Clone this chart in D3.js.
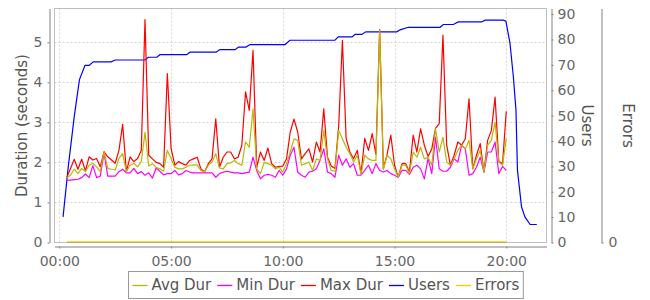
<!DOCTYPE html>
<html>
<head>
<meta charset="utf-8">
<script src="https://cdn.jsdelivr.net/npm/d3@7"></script>
<style>
  body { margin: 0; background: #fff; }
  svg text { font-family: "DejaVu Sans", Verdana, sans-serif; }
</style>
</head>
<body>
<div id="chart"></div>
<script>
// duration samples: one every 10 minutes starting at 00:20
var durStart = 20, durStep = 10;

var avgDur = [1.62, 1.68, 1.83, 1.72, 1.85, 1.77, 1.93, 1.98, 1.89, 1.77, 2.27, 1.85, 1.83, 1.81, 2.10, 2.22, 1.77, 1.93, 1.98, 1.89, 2.02, 2.75,
  1.91, 1.97, 1.88, 1.84, 1.78, 2.30, 2.09, 1.88, 1.84, 1.84, 1.88, 1.93, 1.94, 1.94, 1.80, 1.76, 1.93, 2.01, 2.22, 1.86, 1.84, 1.97, 1.99, 2.05, 1.97,
  1.93, 2.51, 2.38, 3.34, 1.84, 1.72, 2.00, 1.97, 1.93, 1.84, 1.88, 1.76, 1.97, 2.26, 2.59, 2.55, 1.93, 1.97, 2.01, 1.80, 2.09, 2.05, 2.80,
  2.09, 1.80, 1.78, 2.80, 2.59, 2.38, 2.22, 2.01, 2.18, 1.70, 2.18, 2.09, 2.05, 2.05, 5.30, 1.82, 2.18, 2.09, 1.84, 1.63, 1.93, 1.93, 1.72,
  2.26, 2.13, 2.38, 2.09, 2.13, 1.93, 2.84, 2.26, 2.63, 2.01, 1.93, 2.09, 2.30, 2.43, 2.34, 2.55, 1.84, 2.09, 2.30, 1.76, 2.43, 2.55, 3.00, 2.01, 1.93, 2.60];

var minDur = [1.55, 1.56, 1.57, 1.58, 1.62, 1.71, 1.62, 1.92, 1.62, 1.66, 2.24, 1.66, 1.66, 1.66, 1.77, 1.83, 1.74, 1.74, 1.85, 1.72, 1.77, 1.68,
  1.74, 1.61, 1.86, 1.78, 1.69, 1.72, 1.72, 1.80, 1.69, 1.72, 1.80, 1.76, 1.74, 1.74, 1.74, 1.74, 1.74, 1.74, 1.63, 1.72, 1.76, 1.78, 1.76, 1.74, 1.74,
  1.72, 1.74, 1.76, 2.13, 1.80, 1.59, 1.68, 1.70, 1.68, 1.63, 1.80, 1.68, 1.84, 2.18, 2.38, 1.76, 1.68, 1.63, 1.76, 1.78, 1.84, 2.05, 2.34,
  1.76, 1.72, 1.63, 2.18, 1.93, 2.09, 1.88, 1.97, 1.68, 1.68, 1.80, 1.93, 1.72, 1.97, 1.80, 1.76, 1.80, 1.72, 1.68, 1.63, 1.80, 1.80, 1.70,
  1.88, 1.93, 1.84, 1.59, 2.10, 1.72, 2.63, 1.84, 1.78, 1.78, 1.88, 2.09, 2.01, 2.43, 2.34, 1.68, 1.72, 1.88, 2.13, 1.76, 2.26, 2.26, 2.51, 1.72, 1.90, 1.80];

var maxDur = [1.62, 1.85, 2.08, 1.83, 2.08, 1.79, 2.14, 2.06, 2.10, 1.89, 2.27, 2.14, 2.06, 1.98, 2.30, 2.95, 1.77, 2.14, 2.02, 2.10, 2.30, 5.57,
  2.18, 2.09, 2.00, 1.97, 1.88, 4.22, 2.35, 1.93, 2.02, 1.97, 1.93, 2.05, 2.09, 2.13, 1.84, 1.76, 1.97, 2.09, 3.09, 1.88, 2.13, 2.26, 2.26, 2.09, 2.13,
  2.43, 3.76, 3.30, 4.80, 1.88, 2.26, 2.05, 2.36, 1.97, 1.88, 1.90, 1.91, 2.09, 2.76, 3.08, 2.76, 2.09, 2.22, 2.34, 2.01, 2.51, 2.26, 3.34,
  2.13, 1.91, 1.85, 2.90, 5.05, 2.60, 2.26, 2.09, 2.30, 1.72, 2.60, 2.30, 2.72, 2.20, 5.32, 1.85, 2.20, 2.68, 1.93, 1.63, 1.97, 1.97, 1.76,
  2.68, 2.26, 2.84, 2.43, 2.15, 2.34, 2.85, 2.97, 5.18, 2.43, 1.93, 2.18, 2.51, 2.43, 2.59, 3.59, 1.84, 2.18, 2.47, 1.76, 2.55, 2.80, 3.63, 2.02, 1.97, 3.28];

// users: minutes after 00:00 and active users
var userTimes = [10, 24, 40, 54, 69, 80, 91, 139, 150, 230, 239, 262, 270, 342, 351, 421, 431, 472, 481, 501, 512, 606, 619, 740,
  749, 786, 794, 812, 823, 906, 915, 937, 1022, 1031, 1058, 1071, 1134, 1143, 1192, 1199, 1210, 1219, 1226, 1230, 1241, 1250, 1264, 1282];
var userCounts = [10.1, 29.9, 49.6, 64.2, 69.8, 69.8, 71.2, 71.2, 71.9, 71.9, 73, 73, 74, 74, 75, 75, 76, 76, 77, 77, 78, 78, 79.7, 79.7,
  81, 81, 82, 82, 83, 83, 83.8, 84.8, 84.8, 85.9, 85.9, 86.9, 86.9, 87.6, 87.6, 87.2, 78.5, 65.3, 52.2, 28.5, 14, 10.1, 7.1, 7.1];

var errorTimes = [20, 1200];
var errorCounts = [0, 0];

var timeTicks = [0, 300, 600, 900, 1200];
var timeLabels = ["00:00", "05:00", "10:00", "15:00", "20:00"];
var durTicks = [0, 1, 2, 3, 4, 5];
var userTicks = [0, 10, 20, 30, 40, 50, 60, 70, 80, 90];
var errorTicks = [0];

var seriesNames = ["Avg Dur", "Min Dur", "Max Dur", "Users", "Errors"];
var seriesColors = ["#b8b800", "#ff00ff", "#ff0000", "#0000ff", "#ffc800"];

var width = 650, height = 300;
var plotLeft = 54.5, plotRight = 546.5, plotTop = 8.5, plotBottom = 242.5;

var svg = d3.select("#chart").append("svg")
    .attr("width", width)
    .attr("height", height);

var x = d3.scaleLinear().domain([-13, 1308]).range([plotLeft, plotRight]);
var yDur = d3.scaleLinear().domain([0, 5.845]).range([plotBottom, plotTop]);
var yUsers = d3.scaleLinear().domain([0, 92.2]).range([plotBottom, plotTop]);
var yErr = d3.scaleLinear().domain([0, 1]).range([plotBottom, plotTop]);

// grid lines
var grid = svg.append("g").attr("stroke", "#d6d6d6").attr("stroke-dasharray", "2,2").attr("stroke-width", 1);
durTicks.filter(function(d) { return d > 0; }).forEach(function(d) {
    var yy = Math.round(yDur(d)) + 0.5;
    grid.append("line").attr("x1", plotLeft).attr("x2", plotRight).attr("y1", yy).attr("y2", yy);
});
timeTicks.forEach(function(t) {
    var xx = Math.round(x(t)) + 0.5;
    grid.append("line").attr("x1", xx).attr("x2", xx).attr("y1", plotTop).attr("y2", plotBottom);
});

// series lines
var durLine = function(values) {
    return d3.line()
        .x(function(d, i) { return x(durStart + i * durStep); })
        .y(function(d) { return yDur(d); })(values);
};

svg.append("path")
    .attr("d", d3.line().x(function(d, i) { return x(errorTimes[i]); }).y(function(d) { return yErr(d) - 0.5; })(errorCounts))
    .attr("fill", "none").attr("stroke", seriesColors[4]).attr("stroke-width", 1.5);

svg.append("path")
    .attr("d", d3.line().x(function(d, i) { return x(userTimes[i]); }).y(function(d) { return yUsers(d); })(userCounts))
    .attr("fill", "none").attr("stroke", seriesColors[3]).attr("stroke-width", 1.2);

[[maxDur, seriesColors[2]], [minDur, seriesColors[1]], [avgDur, seriesColors[0]]].forEach(function(s) {
    svg.append("path")
        .attr("d", durLine(s[0]))
        .attr("fill", "none")
        .attr("stroke", s[1])
        .attr("stroke-width", 1.2)
        .attr("stroke-linejoin", "round");
});

// plot outline
svg.append("rect")
    .attr("x", plotLeft).attr("y", plotTop)
    .attr("width", plotRight - plotLeft).attr("height", plotBottom - plotTop)
    .attr("fill", "none").attr("stroke", "#888").attr("stroke-opacity", 0.55);

// axes
function styleAxis(g) {
    g.select(".domain").attr("stroke", "#808080");
    g.selectAll(".tick line").attr("stroke", "#808080");
    g.selectAll(".tick text").attr("fill", "#666").style("font-size", "14px")
        .style("font-family", "'DejaVu Sans', Verdana, sans-serif");
}

svg.append("g")
    .attr("transform", "translate(0,246.5)")
    .call(d3.axisBottom(x).tickValues(timeTicks)
        .tickFormat(function(d, i) { return timeLabels[i]; })
        .tickSizeInner(2).tickSizeOuter(0).tickPadding(8))
    .call(styleAxis);

svg.append("g")
    .attr("transform", "translate(49.5,0)")
    .call(d3.axisLeft(yDur).tickValues(durTicks).tickFormat(d3.format("d"))
        .tickSizeInner(2).tickSizeOuter(0).tickPadding(5))
    .call(styleAxis);

svg.append("g")
    .attr("transform", "translate(551.5,0)")
    .call(d3.axisRight(yUsers).tickValues(userTicks).tickFormat(d3.format("d"))
        .tickSizeInner(2).tickSizeOuter(0).tickPadding(4))
    .call(styleAxis);

svg.append("g")
    .attr("transform", "translate(601.5,0)")
    .call(d3.axisRight(yErr).tickValues(errorTicks).tickFormat(d3.format("d"))
        .tickSizeInner(2).tickSizeOuter(0).tickPadding(5))
    .call(styleAxis);

// axis titles
function axisTitle(label, cx, angle) {
    svg.append("text")
        .attr("transform", "translate(" + cx + "," + (plotTop + plotBottom) / 2 + ") rotate(" + angle + ")")
        .attr("text-anchor", "middle")
        .attr("dy", "0.35em")
        .style("font-size", "15px")
        .attr("fill", "#555")
        .text(label);
}
axisTitle("Duration (seconds)", 22, -90);
axisTitle("Users", 587, 90);
axisTitle("Errors", 628, 90);

// legend
var legendBox = svg.append("rect");
var legend = svg.append("g");
var lx = 0;
seriesNames.forEach(function(name, i) {
    var g = legend.append("g");
    g.append("line").attr("x1", 0).attr("x2", 15).attr("y1", 0.5).attr("y2", 0.5)
        .attr("stroke", seriesColors[i]).attr("stroke-width", 1.3);
    var t = g.append("text").attr("x", 19).attr("dy", "0.35em")
        .style("font-size", "15px").attr("fill", "#555").text(name);
    var w = 19 + t.node().getComputedTextLength();
    g.attr("transform", "translate(" + lx + ",0)");
    lx += w + 6;
});
var legendW = lx - 6 + 8;
var legendX = Math.round(325 - legendW / 2) + 0.5;
legend.attr("transform", "translate(" + (legendX + 4) + ",285)");
legendBox
    .attr("x", legendX).attr("y", 271.5)
    .attr("width", legendW).attr("height", 27)
    .attr("fill", "none").attr("stroke", "#999");
</script>
</body>
</html>
